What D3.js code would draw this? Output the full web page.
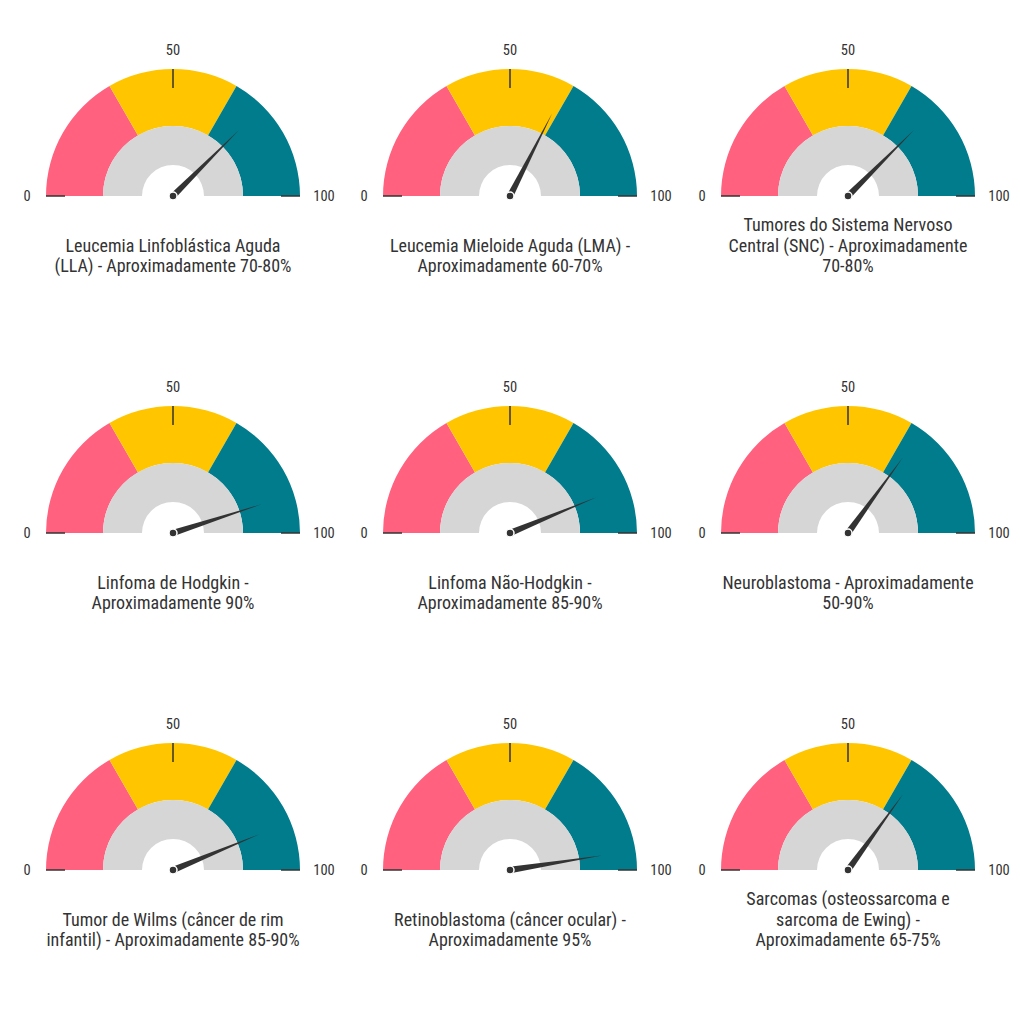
<!DOCTYPE html>
<html>
<head>
<meta charset="utf-8">
<script src="https://cdn.jsdelivr.net/npm/d3@7"></script>
<style>
  html, body { margin: 0; padding: 0; background: #fff; }
  svg { display: block; }
  text { font-family: "Roboto Condensed", "Liberation Sans Narrow", "DejaVu Sans Condensed", Roboto, sans-serif; font-stretch: condensed; fill: #333; }
</style>
</head>
<body>
<svg id="chart" width="1020" height="1034"></svg>
<script>
const categories = [
  "Leucemia Linfoblástica Aguda\n(LLA) - Aproximadamente 70-80%",
  "Leucemia Mieloide Aguda (LMA) -\nAproximadamente 60-70%",
  "Tumores do Sistema Nervoso\nCentral (SNC) - Aproximadamente\n70-80%",
  "Linfoma de Hodgkin -\nAproximadamente 90%",
  "Linfoma Não-Hodgkin -\nAproximadamente 85-90%",
  "Neuroblastoma - Aproximadamente\n50-90%",
  "Tumor de Wilms (câncer de rim\ninfantil) - Aproximadamente 85-90%",
  "Retinoblastoma (câncer ocular) -\nAproximadamente 95%",
  "Sarcomas (osteossarcoma e\nsarcoma de Ewing) -\nAproximadamente 65-75%"
];
const values = [75, 65, 75, 90, 87.5, 70, 87.5, 95, 70];
const bandStarts = [0, 100/3, 200/3];
const bandEnds = [100/3, 200/3, 100];
const bandColors = ["#FF617F", "#FFC600", "#007C8C"];
const tickValues = [0, 50, 100];
const tickLabels = ["0", "50", "100"];

const svg = d3.select("#chart");
const colX = [173, 510, 848];
const rowY = [196, 533, 870];
const rOuter = 127, rBand = 70, rHole = 31;

const ang = d3.scaleLinear().domain([0, 100]).range([-Math.PI / 2, Math.PI / 2]);

categories.forEach((cat, i) => {
  const cx = colX[i % 3], cy = rowY[Math.floor(i / 3)];
  const g = svg.append("g").attr("transform", `translate(${cx},${cy})`);

  const arc = d3.arc().innerRadius(rBand).outerRadius(rOuter);
  g.selectAll("path.band").data(bandStarts.map((s, k) => ({s, e: bandEnds[k], c: bandColors[k]})))
    .join("path").attr("class", "band")
    .attr("d", d => arc({startAngle: ang(d.s), endAngle: ang(d.e)}))
    .attr("fill", d => d.c);

  g.append("path")
    .attr("d", d3.arc().innerRadius(rHole).outerRadius(rBand)({startAngle: ang(0), endAngle: ang(100)}))
    .attr("fill", "#D6D6D6");

  g.selectAll("line.tick").data(tickValues).join("line").attr("class", "tick")
    .attr("x1", d => Math.sin(ang(d)) * rOuter)
    .attr("y1", d => -Math.cos(ang(d)) * rOuter)
    .attr("x2", d => Math.sin(ang(d)) * (rOuter - 19))
    .attr("y2", d => -Math.cos(ang(d)) * (rOuter - 19))
    .attr("stroke", "#333").attr("stroke-width", 1.5);

  const rLab = 146;
  g.selectAll("text.tl").data(tickValues).join("text").attr("class", "tl")
    .attr("x", (d, k) => Math.sin(ang(d)) * rLab + (k === 2 ? 5 : 0))
    .attr("y", d => -Math.cos(ang(d)) * rLab)
    .attr("text-anchor", "middle").attr("dominant-baseline", "central")
    .attr("font-size", 14.5)
    .text((d, k) => tickLabels[k]);

  const v = values[i];
  const a = ang(v);
  const len = 93, hw = 3.2;
  const ux = Math.sin(a), uy = -Math.cos(a);
  const px = -uy, py = ux;
  const pts = [[px * hw, py * hw], [ux * len, uy * len], [-px * hw, -py * hw]];
  g.append("path").attr("d", d3.line()(pts) + "Z").attr("fill", "#333");
  g.append("circle").attr("r", 4).attr("fill", "#333").attr("stroke", "#fff").attr("stroke-width", 1.5);

  const lines = cat.split("\n");
  const lh = 20.5;
  const lastY = 76;
  const t = g.append("text").attr("text-anchor", "middle").attr("font-size", 18);
  lines.forEach((ln, k) => {
    t.append("tspan").attr("x", 0)
      .attr("y", lastY - (lines.length - 1 - k) * lh)
      .text(ln);
  });
});
</script>
</body>
</html>
